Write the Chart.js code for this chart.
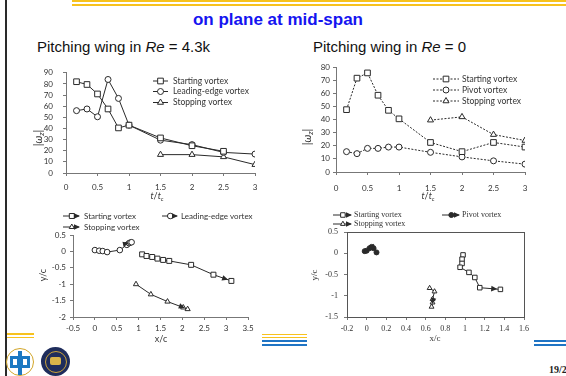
<!DOCTYPE html>
<html>
<head>
<meta charset="utf-8">
<script src="https://cdn.jsdelivr.net/npm/chart.js@4.4.0/dist/chart.umd.min.js"></script>
<style>
  html, body { margin: 0; padding: 0; background: #fff; }
  #slide { position: relative; width: 566px; height: 376px; overflow: hidden; font-family: "Liberation Sans", Arial, sans-serif; }
  .abs { position: absolute; }
  canvas { position: absolute; }
  .title { left: 0; width: 556px; top: 10px; text-align: center; color: #1414f0; font-weight: bold; font-size: 17px; line-height: 20px; }
  .sub { top: 38px; font-size: 15px; line-height: 18px; color: #111; white-space: nowrap; }
  .page { left: 549px; top: 364px; font: bold 10px "Liberation Serif", serif; color: #222; white-space: nowrap; }
</style>
</head>
<body>
<div id="slide">
  <!-- slide decorations -->
  <div class="abs" style="left:5px;top:0;width:2px;height:376px;background:#2a2a2a"></div>
  <div class="abs" style="left:72px;top:0;right:0;height:2px;background:#f7c21e"></div>
  <div class="abs" style="left:72px;top:4px;right:0;height:1.5px;background:#f7c21e"></div>
  <div class="abs" style="left:7px;top:333px;width:27px;height:1.5px;background:#f7c21e"></div>
  <div class="abs" style="left:7px;top:336.5px;width:27px;height:1.5px;background:#f7c21e"></div>
  <div class="abs" style="left:262px;top:333.5px;width:45px;height:1.5px;background:#f7c21e"></div>
  <div class="abs" style="left:262px;top:336.5px;width:45px;height:1.5px;background:#f7c21e"></div>
  <div class="abs" style="left:262px;top:340px;width:45px;height:2px;background:#1f74c4"></div>
  <div class="abs" style="left:262px;top:343.5px;width:45px;height:2px;background:#1f74c4"></div>
  <div class="abs" style="left:534px;top:340px;width:32px;height:2px;background:#1f74c4"></div>
  <div class="abs" style="left:534px;top:343.5px;width:32px;height:2px;background:#1f74c4"></div>

  <!-- logos -->
  <div class="abs" style="left:6px;top:348px;width:26px;height:26px;border:1.5px solid #d2a62a;border-radius:50%;background:#fff"></div>
  <div class="abs" style="left:10px;top:356px;width:20px;height:12px;background:#1b78c2"></div>
  <div class="abs" style="left:13px;top:359px;width:4px;height:6px;background:#fff"></div>
  <div class="abs" style="left:23px;top:359px;width:4px;height:6px;background:#fff"></div>
  <div class="abs" style="left:18px;top:351px;width:4px;height:24px;background:#1b78c2"></div>
  <div class="abs" style="left:41px;top:347px;width:29px;height:29px;border-radius:50%;background:#1f2d5c"></div>
  <div class="abs" style="left:44.5px;top:350.5px;width:20px;height:20px;border:1.5px solid #caa23a;border-radius:50%"></div>
  <div class="abs" style="left:50px;top:357px;width:11px;height:8px;background:#d9b44a;border-radius:2px"></div>

  <div class="abs title">on plane at mid-span</div>
  <div class="abs sub" style="left:37px">Pitching wing in <i>Re</i> = 4.3k</div>
  <div class="abs sub" style="left:313px">Pitching wing in <i>Re</i> = 0</div>
  <div class="abs page">19/2</div>

  <canvas id="c1" width="250" height="145" style="left:20px;top:58px"></canvas>
  <canvas id="c2" width="250" height="145" style="left:292px;top:58px"></canvas>
  <canvas id="c3" width="240" height="140" style="left:25px;top:205px"></canvas>
  <canvas id="c4" width="250" height="140" style="left:295px;top:205px"></canvas>
</div>

<script>
// time axis, t/tc
const tRatio = [0.167, 0.333, 0.5, 0.667, 0.833, 1, 1.5, 2, 2.5, 3];

// Re = 4.3k, |wz|
const re43Starting = [82, 79.5, 71, 57.5, 40.5, 43, 31.5, 24.5, 19.5, null];
const re43Leading = [56, 57.5, 50.5, 84, 67, 43, 29.5, 25.5, 18.5, 17];
const re43Stopping = [null, null, null, null, null, null, 16.5, 16.5, 14.5, 7.5];

// Re = 0, |wz|
const re0Starting = [47.5, 71.5, 75.5, 58.5, 47, 40.5, 22.5, 15.5, 22.5, 19];
const re0Pivot = [15.5, 14, 18, 18, 19, 19, 15, 11.5, 8.5, 6];
const re0Stopping = [null, null, null, null, null, null, 39.5, 42, 28.5, 24];

// Re = 4.3k trajectories (x/c, y/c)
const re43StartX = [1.08, 1.18, 1.31, 1.43, 1.56, 1.7, 2.2, 2.71, 3.12];
const re43StartY = [-0.09, -0.14, -0.17, -0.22, -0.26, -0.29, -0.41, -0.71, -0.9];
const re43LeadX = [0.0, 0.1, 0.18, 0.28, 0.57, 0.73, 0.78, 0.81, 0.84];
const re43LeadY = [0.04, 0.02, 0.01, -0.02, 0.04, 0.2, 0.25, 0.27, 0.28];
const re43StopX = [0.94, 1.28, 1.66, 2.02, 2.12];
const re43StopY = [-1.0, -1.31, -1.53, -1.71, -1.76];

// Re = 0 trajectories (x/c, y/c)
const re0StartX = [0.98, 0.97, 0.97, 0.95, 1.04, 1.1, 1.15, 1.36];
const re0StartY = [-0.04, -0.14, -0.24, -0.33, -0.45, -0.57, -0.81, -0.85];
const re0PivotX = [-0.02, 0.0, 0.03, 0.05, 0.07, 0.1];
const re0PivotY = [0.05, 0.06, 0.12, 0.15, 0.12, 0.02];
const re0StopX = [0.64, 0.69, 0.67, 0.67, 0.66];
const re0StopY = [-0.82, -0.9, -1.08, -1.16, -1.26];

const SANS = "Lato, 'Open Sans', sans-serif";
const SERIF = "'Liberation Serif', 'DejaVu Serif', serif";
const INK = "#2a2a2a";

Chart.defaults.animation = false;
Chart.defaults.font.family = SANS;
Chart.defaults.font.size = 8;
Chart.defaults.color = "#333";

const pts = (xs, ys) => xs.map((x, i) => ({ x, y: ys[i] })).filter((p) => p.y != null);
const fmt = (v) => String(Math.round(v * 100) / 100);

function drawArrow(ctx, x1, y1, x2, y2, back, color) {
  const ang = Math.atan2(y2 - y1, x2 - x1);
  const tx = x2 - Math.cos(ang) * back, ty = y2 - Math.sin(ang) * back;
  ctx.save();
  ctx.fillStyle = color;
  ctx.translate(tx, ty);
  ctx.rotate(ang);
  ctx.beginPath();
  ctx.moveTo(0, 0);
  ctx.lineTo(-6, -2.8);
  ctx.lineTo(-6, 2.8);
  ctx.closePath();
  ctx.fill();
  ctx.restore();
}

function drawRich(ctx, parts, x, y, size, fam, rot) {
  ctx.save();
  ctx.translate(x, y);
  if (rot) ctx.rotate(rot);
  const fonts = parts.map((p) => `${p.i ? "italic " : ""}${p.sub ? Math.round(size * 0.72) : size}px ${fam}`);
  const widths = parts.map((p, k) => { ctx.font = fonts[k]; return ctx.measureText(p.t).width; });
  let cx = -widths.reduce((a, b) => a + b, 0) / 2;
  ctx.textBaseline = "middle";
  ctx.fillStyle = "#333";
  parts.forEach((p, k) => {
    ctx.font = fonts[k];
    ctx.fillText(p.t, cx, p.sub ? size * 0.3 : 0);
    cx += widths[k];
  });
  ctx.restore();
}

// frame, arrows, legends and axis titles drawn in page coordinates
const extras = {
  id: "extras",
  afterDatasetsDraw(chart, args, o) {
    const ctx = chart.ctx, a = chart.chartArea;
    const ox = o.origin[0], oy = o.origin[1];
    if (o.frame) {
      ctx.save();
      ctx.strokeStyle = "#555";
      ctx.lineWidth = 1;
      ctx.strokeRect(Math.round(a.left) + 0.5, Math.round(a.top) + 0.5, Math.round(a.width), Math.round(a.height));
      ctx.restore();
    }
    if (o.arrows) {
      chart.data.datasets.forEach((ds, i) => {
        const d = chart.getDatasetMeta(i).data;
        if (d.length < 2) return;
        const p = d[d.length - 1], q = d[d.length - 2];
        drawArrow(ctx, q.x, q.y, p.x, p.y, ds.pointRadius, ds.borderColor);
      });
    }
    (o.legend || []).forEach((it) => {
      const ds = chart.data.datasets[it.ds];
      const y = it.y - oy, x1 = it.x1 - ox, x2 = it.x2 - ox;
      ctx.save();
      ctx.strokeStyle = ds.borderColor;
      ctx.lineWidth = ds.borderWidth;
      ctx.setLineDash(ds.borderDash || []);
      ctx.beginPath();
      ctx.moveTo(x1, y);
      ctx.lineTo(x2, y);
      ctx.stroke();
      ctx.setLineDash([]);
      const mx = x1 + (x2 - x1) * (it.m || 0.5);
      ctx.fillStyle = ds.pointBackgroundColor;
      ctx.strokeStyle = ds.pointBorderColor;
      ctx.lineWidth = 1;
      Chart.helpers.drawPoint(ctx, { pointStyle: ds.pointStyle, radius: ds.pointRadius, rotation: 0, borderWidth: 1 }, mx, y);
      if (o.arrows) drawArrow(ctx, x1, y, x2 + 1, y, 0, ds.borderColor);
      ctx.fillStyle = "#333";
      ctx.font = `${o.legendSize}px ${o.fam}`;
      ctx.textBaseline = "middle";
      ctx.fillText(ds.label, it.tx - ox, y);
      ctx.restore();
    });
    (o.titles || []).forEach((t) => drawRich(ctx, t.parts, t.x - ox, t.y - oy, t.size, o.fam, t.rot));
  },
};

function series(label, data, style, opts) {
  const r = style === "rect" ? 4 : style === "triangle" ? 3.5 : 3;
  return Object.assign({
    label, data, showLine: true, borderColor: INK, borderWidth: 1,
    pointStyle: style, pointRadius: r, pointHoverRadius: r,
    pointBackgroundColor: "#fff", pointBorderColor: INK, pointBorderWidth: 1,
  }, opts || {});
}

// canvas origin, target plot area [left, top, right, bottom] in page pixels
function scales(origin, size, area, s) {
  const [x0, y0] = origin, [w, h] = size, [L, T, R, B] = area;
  const fam = s.fam;
  return {
    layout: { padding: { left: 0, top: T - y0, right: x0 + w - R, bottom: 0 } },
    scales: {
      x: {
        type: "linear", min: s.xmin, max: s.xmax,
        ticks: { stepSize: s.xstep, autoSkip: false, maxRotation: 0, padding: s.xpad, font: { family: fam, size: s.tick }, color: "#333", callback: fmt },
        grid: { drawOnChartArea: false, tickLength: 3, color: "#777" },
        border: { color: "#777" },
        afterFit: (sc) => { sc.height = y0 + h - B; },
      },
      y: {
        type: "linear", min: s.ymin, max: s.ymax,
        ticks: { stepSize: s.ystep, autoSkip: false, padding: s.ypad, font: { family: fam, size: s.tick }, color: "#333", callback: fmt },
        grid: { drawOnChartArea: false, tickLength: 3, color: "#777" },
        border: { color: "#777" },
        afterFit: (sc) => { sc.width = L - x0; },
      },
    },
  };
}

function makeChart(id, origin, size, area, s, datasets, extra) {
  const sc = scales(origin, size, area, s);
  return new Chart(document.getElementById(id), {
    type: "scatter",
    data: { datasets },
    options: Object.assign({
      responsive: false,
      plugins: {
        legend: { display: false },
        tooltip: { enabled: false },
        extras: Object.assign({ origin, fam: s.fam }, extra),
      },
    }, sc),
    plugins: [extras],
  });
}

const tTitle = [{ t: "t", i: true }, { t: "/" }, { t: "t", i: true }, { t: "c", i: true, sub: true }];
const wTitle = [{ t: "|" }, { t: "\u03c9", i: true }, { t: "z", i: true, sub: true }, { t: "|" }];

makeChart("c1", [20, 58], [250, 145], [66, 66, 255, 173],
  { fam: SANS, tick: 8, xmin: 0, xmax: 3, xstep: 0.5, ymin: 0, ymax: 90, ystep: 10, xpad: 7, ypad: 10 },
  [
    series("Starting vortex", pts(tRatio, re43Starting), "rect"),
    series("Leading-edge vortex", pts(tRatio, re43Leading), "circle"),
    series("Stopping vortex", pts(tRatio, re43Stopping), "triangle"),
  ],
  {
    legendSize: 8.5,
    legend: [
      { ds: 0, x1: 153, x2: 168, y: 81, tx: 173 },
      { ds: 1, x1: 153, x2: 168, y: 91.5, tx: 173 },
      { ds: 2, x1: 153, x2: 168, y: 102.5, tx: 173 },
    ],
    titles: [
      { parts: tTitle, x: 157, y: 196, size: 9 },
      { parts: wTitle, x: 38, y: 138, size: 11, rot: -Math.PI / 2 },
    ],
  });

makeChart("c2", [292, 58], [250, 145], [336, 67, 525, 172],
  { fam: SANS, tick: 8, xmin: 0, xmax: 3, xstep: 0.5, ymin: 0, ymax: 80, ystep: 10, xpad: 9, ypad: 3 },
  [
    series("Starting vortex", pts(tRatio, re0Starting), "rect", { borderDash: [2, 1.5] }),
    series("Pivot vortex", pts(tRatio, re0Pivot), "circle", { borderDash: [2, 1.5] }),
    series("Stopping vortex", pts(tRatio, re0Stopping), "triangle", { borderDash: [2, 1.5] }),
  ],
  {
    legendSize: 8.5,
    legend: [
      { ds: 0, x1: 433, x2: 459, y: 79, tx: 462 },
      { ds: 1, x1: 433, x2: 459, y: 90, tx: 462 },
      { ds: 2, x1: 433, x2: 459, y: 101, tx: 462 },
    ],
    titles: [
      { parts: tTitle, x: 428, y: 196, size: 9 },
      { parts: wTitle, x: 307, y: 137, size: 11, rot: -Math.PI / 2 },
    ],
  });

makeChart("c3", [25, 205], [240, 140], [73, 235, 248, 317],
  { fam: SANS, tick: 8, xmin: -0.5, xmax: 3.5, xstep: 0.5, ymin: -2, ymax: 0.5, ystep: 0.5, xpad: 4, ypad: 4 },
  [
    series("Starting vortex", pts(re43StartX, re43StartY), "rect", { pointRadius: 3.5 }),
    series("Leading-edge vortex", pts(re43LeadX, re43LeadY), "circle", { pointRadius: 2.8 }),
    series("Stopping vortex", pts(re43StopX, re43StopY), "triangle", { pointRadius: 3 }),
  ],
  {
    arrows: true,
    legendSize: 8,
    legend: [
      { ds: 0, x1: 63, x2: 79, y: 216, tx: 84, m: 0.55 },
      { ds: 1, x1: 162, x2: 177, y: 216, tx: 181, m: 0.55 },
      { ds: 2, x1: 63, x2: 79, y: 227, tx: 84, m: 0.55 },
    ],
    titles: [
      { parts: [{ t: "x/c" }], x: 161, y: 339, size: 9 },
      { parts: [{ t: "y/c" }], x: 43, y: 275, size: 9, rot: -Math.PI / 2 },
    ],
  });

makeChart("c4", [295, 205], [250, 140], [347, 232, 524, 317],
  { fam: SERIF, tick: 8, xmin: -0.2, xmax: 1.6, xstep: 0.2, ymin: -1.5, ymax: 0.5, ystep: 0.5, xpad: 4, ypad: 6 },
  [
    series("Starting vortex", pts(re0StartX, re0StartY), "rect", { pointRadius: 3.2 }),
    series("Pivot vortex", pts(re0PivotX, re0PivotY), "circle", { pointRadius: 2.5, pointBackgroundColor: INK }),
    series("Stopping vortex", pts(re0StopX, re0StopY), "triangle", { pointRadius: 2.8 }),
  ],
  {
    frame: true,
    arrows: true,
    legendSize: 8,
    legend: [
      { ds: 0, x1: 333, x2: 351, y: 215, tx: 354, m: 0.55 },
      { ds: 1, x1: 442, x2: 459, y: 215, tx: 462, m: 0.55 },
      { ds: 2, x1: 333, x2: 351, y: 224, tx: 354, m: 0.55 },
    ],
    titles: [
      { parts: [{ t: "x/c" }], x: 435, y: 339, size: 9 },
      { parts: [{ t: "y/c" }], x: 315, y: 275, size: 9, rot: -Math.PI / 2 },
    ],
  });
</script>
</body>
</html>
